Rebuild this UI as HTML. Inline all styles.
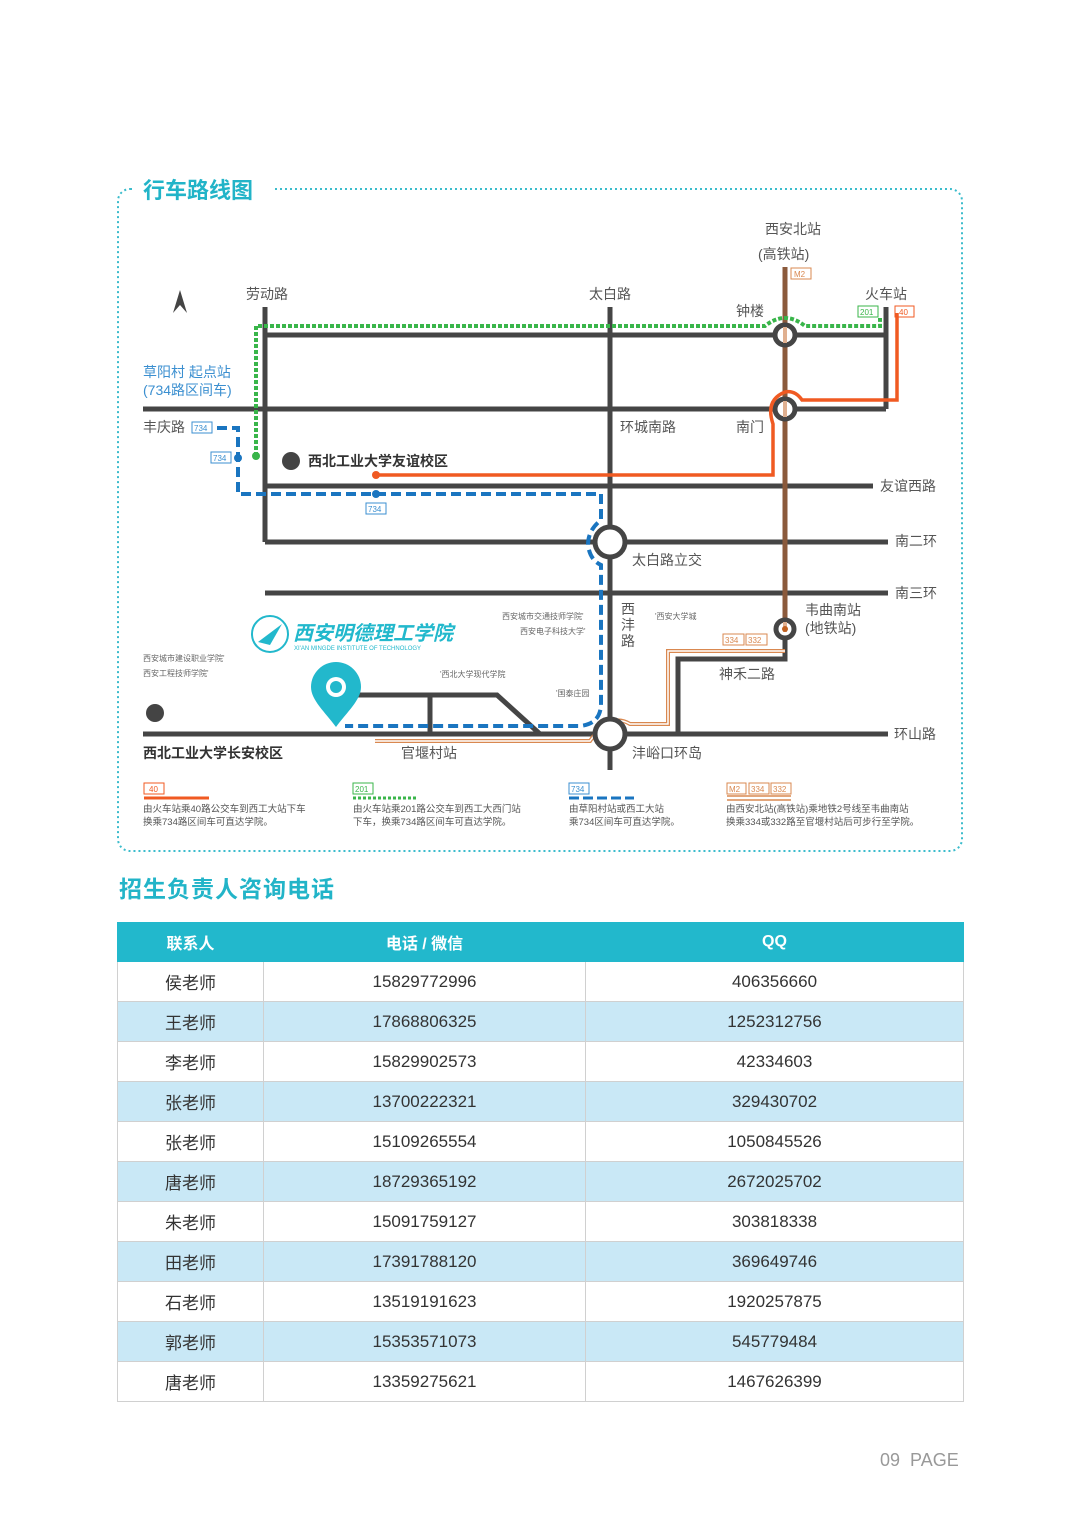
<!DOCTYPE html>
<html><head><meta charset="utf-8"><style>
body{margin:0;width:1080px;height:1515px;background:#fff;position:relative;font-family:"Liberation Sans","Noto Sans CJK SC",sans-serif;overflow:hidden}
svg text{font-family:"Liberation Sans","Noto Sans CJK SC",sans-serif}
.h2{position:absolute;left:119px;top:870px;font-size:23px;font-weight:bold;color:#22b4c8;letter-spacing:1px}
table{position:absolute;left:117px;top:922px;width:847px;border-collapse:collapse;font-size:17px;color:#333}
td,th{height:39px;text-align:center;border:1px solid #d0d0d0;padding:0}
th{background:#22b8cc;color:#fff;font-weight:bold;font-size:16px;height:38px;border-color:#22b8cc}
tr:nth-child(odd) td{background:#c9e8f6}
.pg{position:absolute;left:880px;top:1450px;font-size:18px;color:#999}
</style></head><body>
<svg width="1080" height="870" style="position:absolute;left:0;top:0">
<rect x="118" y="189" width="844" height="662" rx="12" fill="none" stroke="#3bbccc" stroke-width="2" stroke-dasharray="2 3"/>
<rect x="135" y="175" width="138" height="30" fill="#fff"/>
<text x="143" y="198" font-size="22" font-weight="bold" fill="#22b4c8">行车路线图</text>
<g stroke="#454545" stroke-width="5" fill="none">
<path d="M265 307V542M265 335H886M143 409H886M886 307V409M265 486H873M265 542H888M610 307V770M265 593H888M143 734H888M678 734V659H785V630M350 695H497L540 734M430 695V734"/>
</g>
<path d="M785 267V629" stroke="#8b5a3c" stroke-width="5"/>
<path d="M375 741H590 Q610 712 630 724 H668 V651 H785" stroke="#d98850" stroke-width="4" fill="none"/>
<path d="M375 741H590 Q610 712 630 724 H668 V651 H785" stroke="#fff" stroke-width="1.5" fill="none"/>
<g fill="#fff" stroke="#454545">
<circle cx="785" cy="335" r="10" stroke-width="5"/><circle cx="785" cy="409" r="10" stroke-width="5"/>
<circle cx="610" cy="542" r="15" stroke-width="5"/><circle cx="610" cy="734" r="15" stroke-width="5"/>
<circle cx="785" cy="629" r="9" stroke-width="5"/></g>
<path d="M785 327V343M785 401V417M785 622V632" stroke="#e0b090" stroke-width="4"/>
<circle cx="785" cy="629" r="3" fill="#c06020"/>
<path d="M256 456V326H765Q785 310 805 326H880V318" stroke="#39b54a" stroke-width="4" stroke-dasharray="4 2" fill="none"/>
<circle cx="256" cy="456" r="4" fill="#39b54a"/>
<path d="M376 475H773V424Q765 400 785 392Q795 390 802 400H897V313" stroke="#f05a22" stroke-width="3.5" fill="none"/>
<circle cx="376" cy="475" r="4" fill="#f05a22"/>
<path d="M217 428H238V494H601V520Q588 530 588 545Q590 560 601 565V705Q600 724 580 726H345" stroke="#1a75c0" stroke-width="4" stroke-dasharray="10 5" fill="none"/>
<circle cx="238" cy="458" r="4" fill="#1a75c0"/><circle cx="376" cy="494" r="4" fill="#1a75c0"/>
<circle cx="291" cy="461" r="9" fill="#444"/><circle cx="155" cy="713" r="9" fill="#444"/>
<path d="M336 727C325 712 311 700 311 687a25 25 0 0 1 50 0c0 13-14 25-25 40z" fill="#22b8cc"/>
<circle cx="336" cy="687" r="10" fill="#fff"/><circle cx="336" cy="687" r="6" fill="#22b8cc"/>
<path d="M180 290L173 313L180 305L187 313Z" fill="#444"/>
<circle cx="270" cy="634" r="18" fill="none" stroke="#22b8cc" stroke-width="2"/>
<path d="M258 642L282 624L270 645Z" fill="#22b8cc"/>
<g font-size="14" fill="#555">
<text x="246" y="299">劳动路</text><text x="589" y="299">太白路</text><text x="765" y="234">西安北站</text><text x="758" y="259">(高铁站)</text>
<text x="736" y="316">钟楼</text><text x="865" y="299">火车站</text><text x="620" y="432">环城南路</text><text x="736" y="432">南门</text>
<text x="880" y="491">友谊西路</text><text x="895" y="546">南二环</text><text x="895" y="598">南三环</text><text x="894" y="739">环山路</text>
<text x="632" y="565">太白路立交</text><text x="805" y="615">韦曲南站</text><text x="805" y="633">(地铁站)</text><text x="719" y="679">神禾二路</text>
<text x="632" y="758">沣峪口环岛</text><text x="401" y="758">官堰村站</text><text x="143" y="432">丰庆路</text>
<text x="621" y="614">西</text><text x="621" y="630">沣</text><text x="621" y="646">路</text>
</g>
<text x="143" y="377" font-size="14" fill="#3b8fd0">草阳村 起点站</text><text x="143" y="395" font-size="14" fill="#3b8fd0">(734路区间车)</text>
<text x="308" y="466" font-size="14" font-weight="bold" fill="#333">西北工业大学友谊校区</text>
<text x="143" y="758" font-size="14" font-weight="bold" fill="#333">西北工业大学长安校区</text>
<text x="293" y="640" font-size="20" font-style="italic" font-weight="bold" fill="#22b8cc">西安明德理工学院</text>
<text x="294" y="650" font-size="6" fill="#22b8cc">XI'AN MINGDE INSTITUTE OF TECHNOLOGY</text>
<g font-size="8" fill="#666"><text x="502" y="619">西安城市交通技师学院'</text><text x="520" y="634">西安电子科技大学'</text><text x="655" y="619">'西安大学城</text>
<text x="143" y="661">西安城市建设职业学院'</text><text x="143" y="676">西安工程技师学院'</text><text x="440" y="677">'西北大学现代学院</text><text x="556" y="696">'国泰庄园</text></g>
<g font-size="8" fill="none" stroke-width="1">
<rect x="791" y="268" width="20" height="11" stroke="#d98850"/><text x="794" y="277" fill="#d98850">M2</text>
<rect x="858" y="306" width="20" height="11" stroke="#39b54a"/><text x="860" y="315" fill="#39b54a">201</text>
<rect x="895" y="306" width="19" height="11" stroke="#f05a22"/><text x="899" y="315" fill="#f05a22">40</text>
<rect x="192" y="422" width="20" height="11" stroke="#3b8fd0"/><text x="194" y="431" fill="#3b8fd0">734</text>
<rect x="211" y="452" width="20" height="11" stroke="#3b8fd0"/><text x="213" y="461" fill="#3b8fd0">734</text>
<rect x="366" y="503" width="20" height="11" stroke="#3b8fd0"/><text x="368" y="512" fill="#3b8fd0">734</text>
<rect x="723" y="634" width="21" height="11" stroke="#d98850"/><text x="725" y="643" fill="#d98850">334</text>
<rect x="746" y="634" width="21" height="11" stroke="#d98850"/><text x="748" y="643" fill="#d98850">332</text>
<rect x="144" y="783" width="20" height="11" stroke="#f05a22"/><text x="149" y="792" fill="#f05a22">40</text>
<rect x="353" y="783" width="20" height="11" stroke="#39b54a"/><text x="355" y="792" fill="#39b54a">201</text>
<rect x="569" y="783" width="20" height="11" stroke="#3b8fd0"/><text x="571" y="792" fill="#3b8fd0">734</text>
<rect x="727" y="783" width="19" height="11" stroke="#d98850"/><text x="729" y="792" fill="#d98850">M2</text>
<rect x="749" y="783" width="20" height="11" stroke="#d98850"/><text x="751" y="792" fill="#d98850">334</text>
<rect x="771" y="783" width="20" height="11" stroke="#d98850"/><text x="773" y="792" fill="#d98850">332</text>
</g>
<path d="M144 798H209" stroke="#f05a22" stroke-width="3"/>
<path d="M353 798H418" stroke="#39b54a" stroke-width="3" stroke-dasharray="3 2"/>
<path d="M569 798H634" stroke="#1a75c0" stroke-width="3" stroke-dasharray="10 4"/>
<path d="M727 796H791M727 800H791" stroke="#d98850" stroke-width="1.5"/>
<g font-size="9.5" fill="#555">
<text x="143" y="812">由火车站乘40路公交车到西工大站下车</text><text x="143" y="825">换乘734路区间车可直达学院。</text>
<text x="353" y="812">由火车站乘201路公交车到西工大西门站</text><text x="353" y="825">下车，换乘734路区间车可直达学院。</text>
<text x="569" y="812">由草阳村站或西工大站</text><text x="569" y="825">乘734区间车可直达学院。</text>
<text x="726" y="812">由西安北站(高铁站)乘地铁2号线至韦曲南站</text><text x="726" y="825">换乘334或332路至官堰村站后可步行至学院。</text>
</g>
</svg>
<div class="h2">招生负责人咨询电话</div>
<table>
<tr><th style="width:145px">联系人</th><th style="width:321px">电话 / 微信</th><th>QQ</th></tr>
<tr><td>侯老师</td><td>15829772996</td><td>406356660</td></tr>
<tr><td>王老师</td><td>17868806325</td><td>1252312756</td></tr>
<tr><td>李老师</td><td>15829902573</td><td>42334603</td></tr>
<tr><td>张老师</td><td>13700222321</td><td>329430702</td></tr>
<tr><td>张老师</td><td>15109265554</td><td>1050845526</td></tr>
<tr><td>唐老师</td><td>18729365192</td><td>2672025702</td></tr>
<tr><td>朱老师</td><td>15091759127</td><td>303818338</td></tr>
<tr><td>田老师</td><td>17391788120</td><td>369649746</td></tr>
<tr><td>石老师</td><td>13519191623</td><td>1920257875</td></tr>
<tr><td>郭老师</td><td>15353571073</td><td>545779484</td></tr>
<tr><td>唐老师</td><td>13359275621</td><td>1467626399</td></tr>
</table>
<div class="pg">09 &nbsp;PAGE</div>
</body></html>
